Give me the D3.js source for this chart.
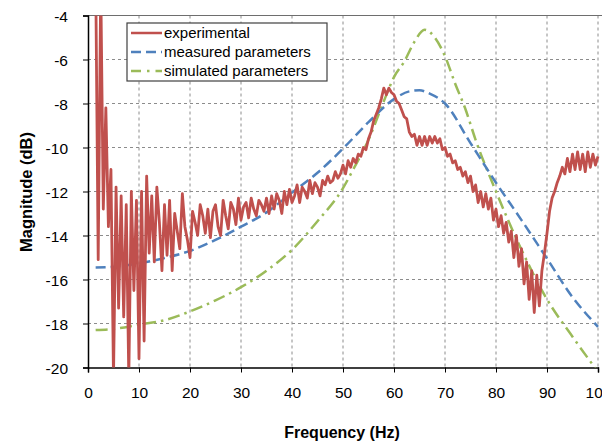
<!DOCTYPE html>
<html>
<head>
<meta charset="utf-8">
<script src="https://cdn.jsdelivr.net/npm/d3@7"></script>
<style>
  body { margin: 0; background: #fff; }
  text { font-family: "Liberation Sans", Arial, sans-serif; fill: #000; }
</style>
</head>
<body>
<div class="chart"></div>
<script>
// experimental trace, sampled every 0.5 Hz starting at 1.5 Hz
const expStart = 1.5;
const expStep = 0.5;
const expMag = [
  -2.0, -15.1, -2.5, -12.8, -8.2, -13.6, -11.0, -20.5, -11.8, -17.3,
  -12.2, -17.7, -12.6, -20.5, -12.0, -16.5, -12.4, -19.6, -12.0, -18.8,
  -11.3, -14.8, -12.2, -15.2, -11.8, -13.4, -15.6, -12.6, -14.9, -12.4,
  -15.6, -13.0, -13.8, -14.6, -12.1, -13.6, -14.2, -15.0, -12.9, -13.4,
  -14.0, -12.6, -13.1, -13.9, -12.8, -14.1, -12.9, -12.6, -13.6, -14.0,
  -12.4, -13.1, -13.7, -12.5, -12.8, -13.5, -12.3, -13.3, -12.7, -12.5,
  -13.2, -12.3, -12.8, -13.1, -12.4, -12.6, -12.9, -12.3, -13.0, -12.2,
  -12.8, -12.1, -12.4, -13.0, -12.0, -12.6, -11.9, -12.5, -12.2, -11.7,
  -12.5, -11.8, -12.0, -12.3, -11.5, -12.1, -11.6, -11.8, -12.2, -11.5,
  -11.7, -11.3, -11.6, -11.5, -11.1, -11.4, -11.2, -10.8, -11.2, -10.6,
  -10.9, -10.5, -10.7, -10.3, -10.4, -10.0, -10.1, -9.6, -9.3, -8.8,
  -8.5, -8.2, -7.8, -7.3, -7.6, -7.3, -7.5, -7.6, -7.9, -8.0,
  -8.3, -8.6, -8.7, -9.3, -9.5, -9.4, -9.9, -9.5, -9.9, -9.5,
  -9.9, -9.5, -9.8, -9.5, -9.8, -9.6, -10.1, -10.0, -10.4, -10.3,
  -10.7, -10.6, -11.0, -10.9, -11.3, -11.1, -11.6, -11.3, -12.0, -11.7,
  -12.5, -12.0, -12.7, -12.1, -12.8, -12.3, -13.3, -12.8, -13.6, -13.1,
  -13.9, -13.4, -14.3, -13.8, -15.0, -14.0, -15.4, -14.6, -16.2, -15.2,
  -16.9, -15.6, -17.5, -15.8, -17.2, -15.6, -14.8, -13.9, -12.9, -12.3,
  -12.0, -11.6, -11.3, -10.9, -11.2, -10.5, -11.1, -10.3, -11.0, -10.2,
  -11.0, -10.3, -11.1, -10.2, -10.9, -10.3, -10.8, -10.4
];

// measured parameters model
const measFreq = [1.5, 5, 10, 15, 20, 25, 30, 35, 40, 45, 50, 55, 60, 63, 65, 67, 70, 75, 80, 85, 90, 95, 100];
const measMag = [-15.45, -15.42, -15.27, -15.02, -14.7, -14.2, -13.6, -12.95, -12.05, -11.15, -10.05, -8.85, -7.8, -7.45, -7.4, -7.55, -8.0, -9.8, -11.6, -13.3, -15.05, -16.8, -18.15];

// simulated parameters model
const simFreq = [1.5, 5, 10, 15, 20, 25, 30, 35, 40, 45, 50, 52, 55, 58, 60, 62, 64, 66, 68, 70, 72, 74, 76, 80, 85, 90, 95, 100];
const simMag = [-18.3, -18.25, -18.05, -17.85, -17.45, -16.95, -16.35, -15.6, -14.65, -13.35, -11.85, -11.0, -9.65, -7.9, -6.8, -6.1, -5.2, -4.65, -5.0, -5.85, -7.1, -8.25, -9.65, -12.0, -14.65, -16.9, -18.6, -20.2];

const xTicks = [0, 10, 20, 30, 40, 50, 60, 70, 80, 90, 100];
const yTicks = [-20, -18, -16, -14, -12, -10, -8, -6, -4];
const seriesNames = ["experimental", "measured parameters", "simulated parameters"];

const W = 602, H = 445;
const pLeft = 88, pRight = 598, pTop = 15.5, pBottom = 367.5;

const svg = d3.select('.chart').append('svg')
  .attr('width', W)
  .attr('height', H);

const x = d3.scaleLinear().domain([0, 100]).range([pLeft, pRight]);
const y = d3.scaleLinear().domain([-20, -4]).range([pBottom, pTop]);

// grid
svg.append('g')
  .selectAll('line')
  .data(yTicks.filter(d => d > -20 && d < -4))
  .enter().append('line')
  .attr('x1', pLeft).attr('x2', pRight)
  .attr('y1', d => y(d)).attr('y2', d => y(d))
  .attr('stroke', '#8c8c8c').attr('stroke-dasharray', '3,3');

svg.append('g')
  .selectAll('line')
  .data(xTicks.filter(d => d > 0))
  .enter().append('line')
  .attr('x1', d => x(d)).attr('x2', d => x(d))
  .attr('y1', pTop).attr('y2', pBottom)
  .attr('stroke', '#8c8c8c').attr('stroke-dasharray', '3,3');

svg.append('line')
  .attr('x1', pLeft).attr('x2', W)
  .attr('y1', pTop).attr('y2', pTop)
  .attr('stroke', '#6e6e6e');

// axes (plain hyphen for negatives, like the original)
const fmt = d => String(d);
const xAxis = svg.append('g')
  .attr('transform', `translate(0,${pBottom})`)
  .call(d3.axisBottom(x).tickValues(xTicks).tickFormat(fmt).tickSize(5).tickPadding(14));
const yAxis = svg.append('g')
  .attr('transform', `translate(${pLeft},0)`)
  .call(d3.axisLeft(y).tickValues(yTicks).tickFormat(fmt).tickSize(5).tickPadding(15));

[xAxis, yAxis].forEach(g => {
  g.select('.domain').attr('stroke', '#000').attr('stroke-width', 1.5);
  g.selectAll('.tick line').attr('stroke', '#000');
  g.selectAll('.tick text').style('font-size', '15.5px').attr('fill', '#000');
});
yAxis.selectAll('.tick text').attr('dy', '0.36em');

// clip to plot area
svg.append('clipPath').attr('id', 'plotClip')
  .append('rect')
  .attr('x', pLeft).attr('y', pTop)
  .attr('width', pRight - pLeft + 4).attr('height', pBottom - pTop);

const plot = svg.append('g').attr('clip-path', 'url(#plotClip)');

const expData = expMag.map((v, i) => [expStart + i * expStep, v]);
const measData = measFreq.map((f, i) => [f, measMag[i]]);
const simData = simFreq.map((f, i) => [f, simMag[i]]);

const lineStraight = d3.line().x(d => x(d[0])).y(d => y(d[1]));
const lineSmooth = d3.line().x(d => x(d[0])).y(d => y(d[1])).curve(d3.curveMonotoneX);

plot.append('path')
  .attr('d', lineSmooth(simData))
  .attr('fill', 'none')
  .attr('stroke', '#9BBB59')
  .attr('stroke-width', 2.5)
  .attr('stroke-dasharray', '12,5,2.5,5');

plot.append('path')
  .attr('d', lineSmooth(measData))
  .attr('fill', 'none')
  .attr('stroke', '#4F81BD')
  .attr('stroke-width', 2.5)
  .attr('stroke-dasharray', '10,5');

plot.append('path')
  .attr('d', lineStraight(expData))
  .attr('fill', 'none')
  .attr('stroke', '#C0504D')
  .attr('stroke-width', 2.8)
  .attr('stroke-linejoin', 'round');

// axis titles
svg.append('text')
  .attr('x', 342).attr('y', 438)
  .attr('text-anchor', 'middle')
  .style('font-size', '16px').style('font-weight', 'bold')
  .text('Frequency (Hz)');

svg.append('text')
  .attr('transform', 'translate(32,192) rotate(-90)')
  .attr('text-anchor', 'middle')
  .style('font-size', '16.5px').style('font-weight', 'bold')
  .text('Magnitude (dB)');

// legend
const legend = svg.append('g').attr('transform', 'translate(127,23)');
legend.append('rect')
  .attr('x', 0).attr('y', 0).attr('width', 200).attr('height', 58)
  .attr('fill', '#fff').attr('stroke', '#404040').attr('stroke-width', 1.2);

const legendStyles = [
  { color: '#C0504D', dash: null },
  { color: '#4F81BD', dash: '10,5' },
  { color: '#9BBB59', dash: '10,6,2.5,6' }
];
seriesNames.forEach((name, i) => {
  const yy = 10 + i * 19;
  legend.append('line')
    .attr('x1', 4).attr('x2', 35).attr('y1', yy).attr('y2', yy)
    .attr('stroke', legendStyles[i].color)
    .attr('stroke-width', 2.5)
    .attr('stroke-dasharray', legendStyles[i].dash);
  legend.append('text')
    .attr('x', 37).attr('y', yy).attr('dy', '0.36em')
    .style('font-size', '15px')
    .text(name);
});
</script>
</body>
</html>
